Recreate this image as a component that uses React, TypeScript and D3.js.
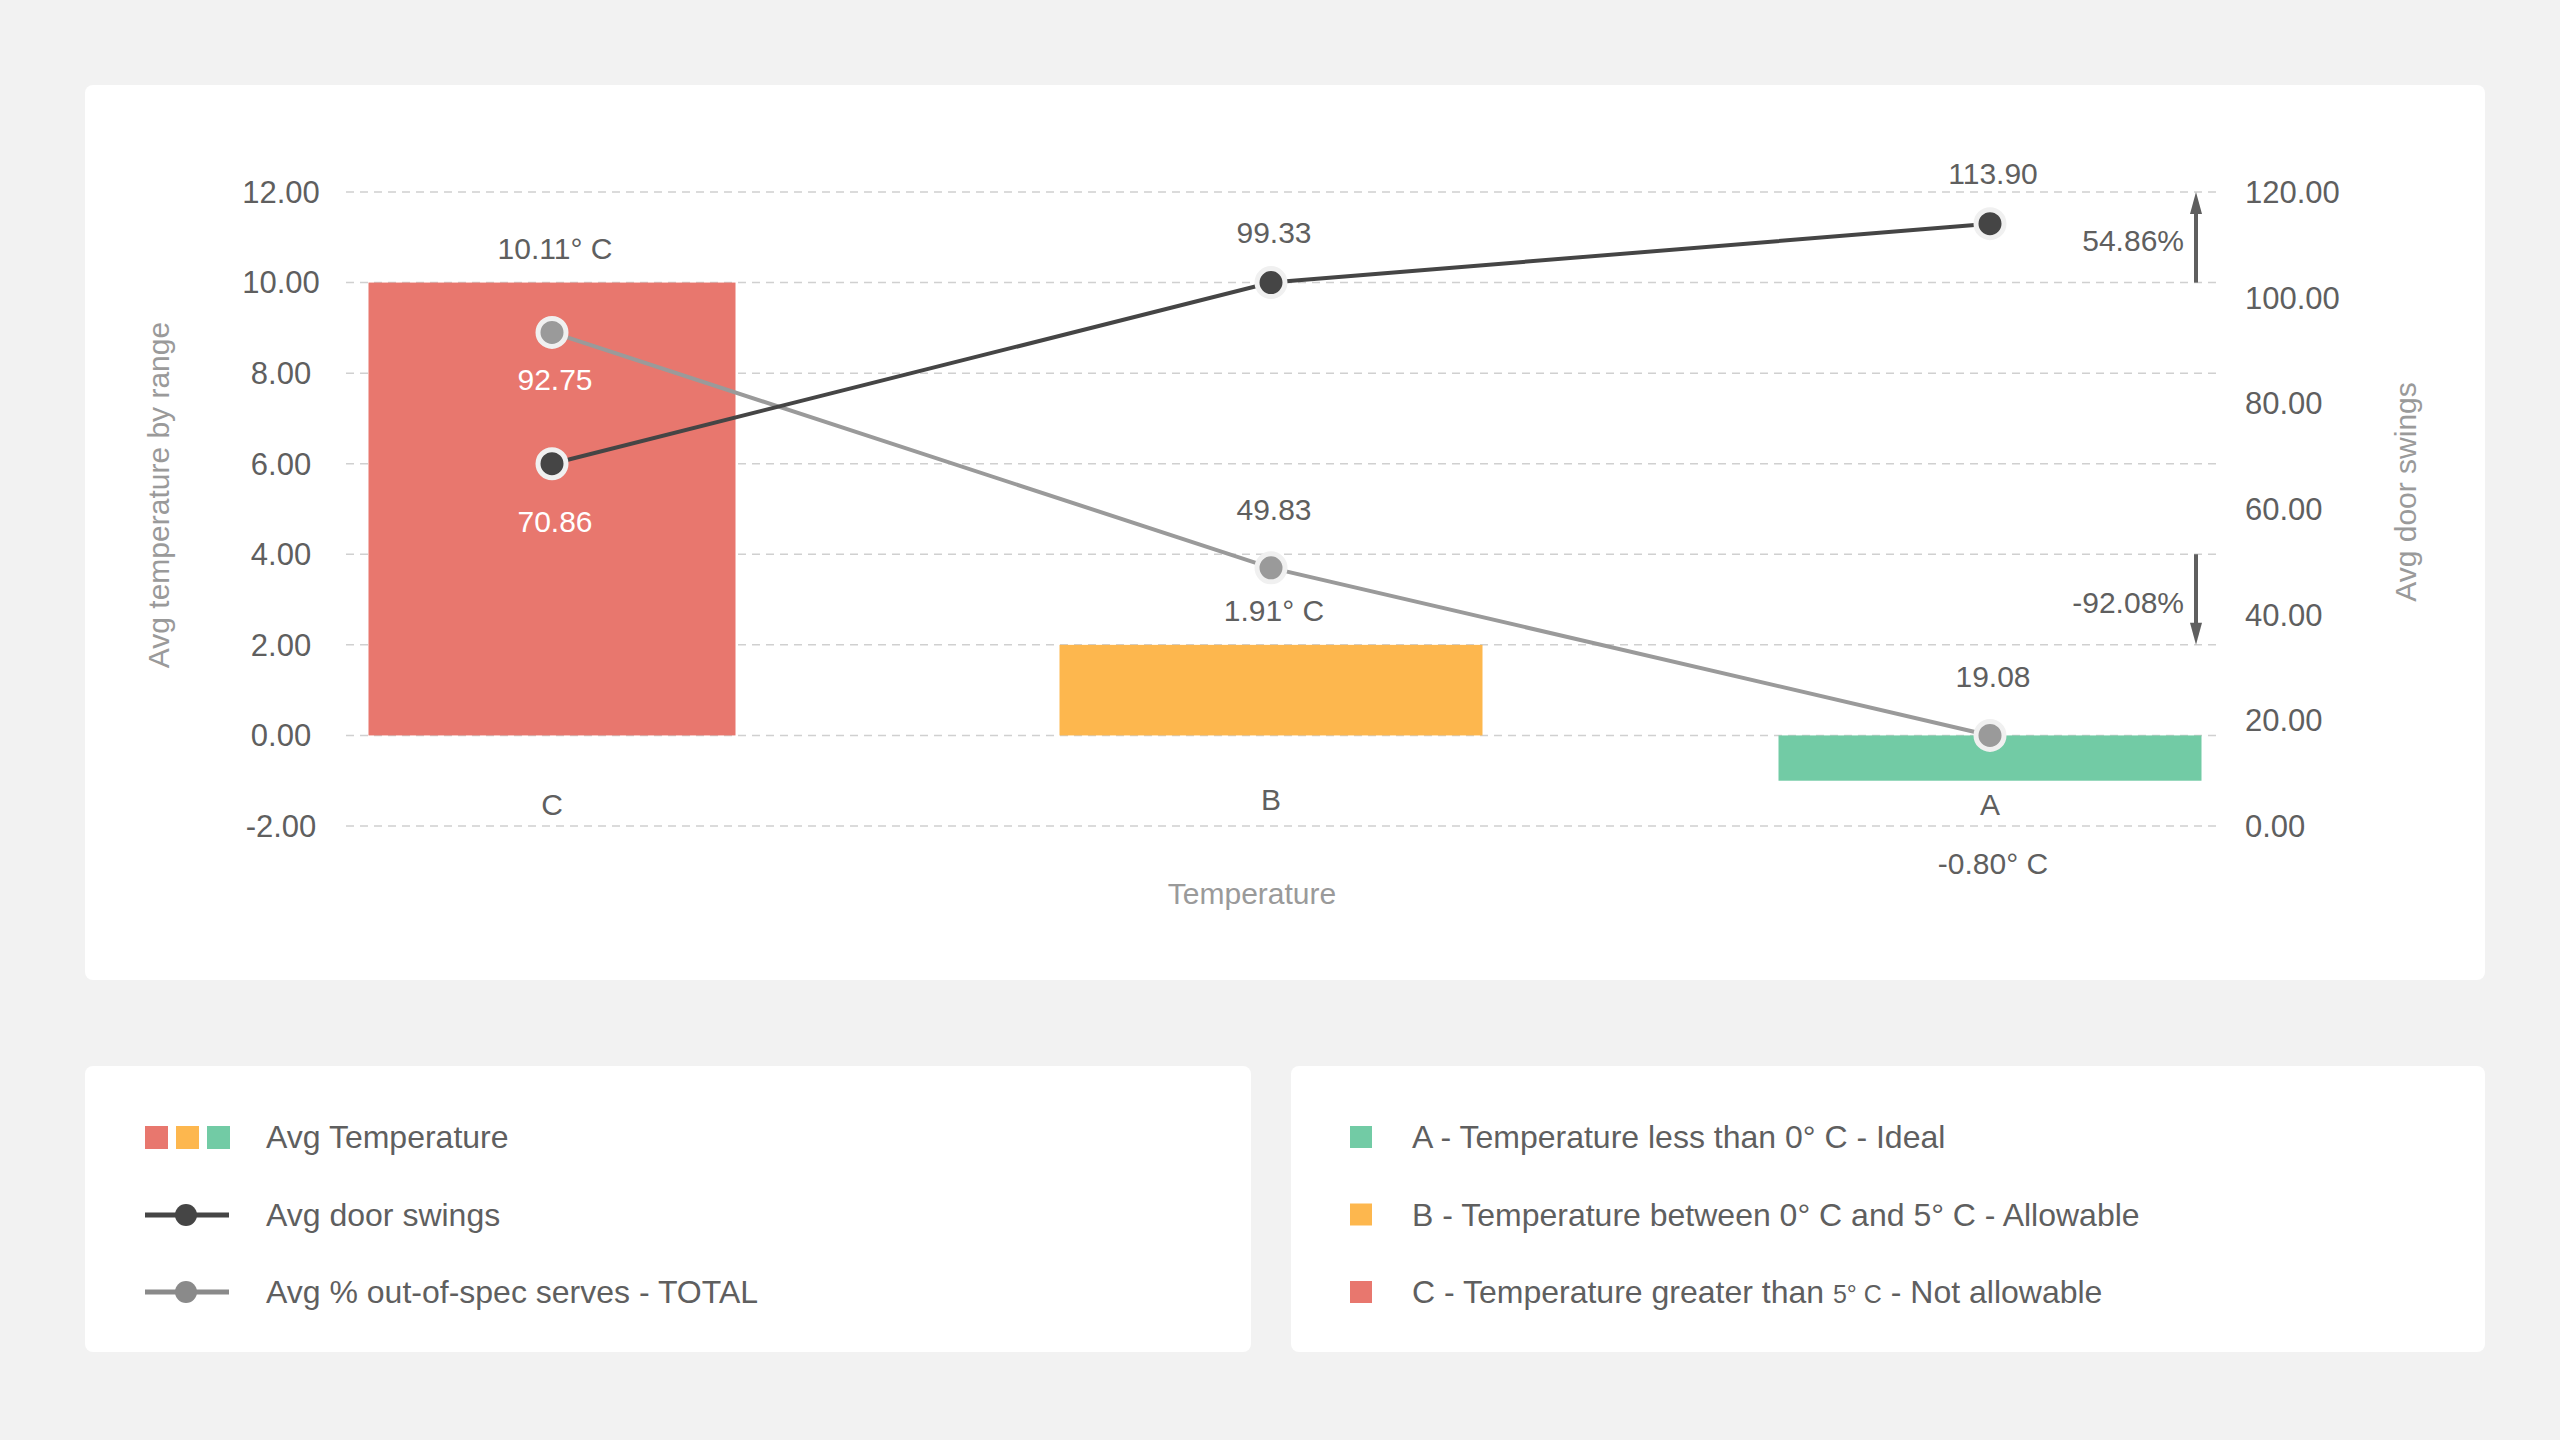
import React from 'react';
import * as d3 from 'd3';

// Categories and values
const categories = ['C', 'B', 'A'];
const barHeights = [10.0, 2.0, -1.0];
const barLabels = ['10.11° C', '1.91° C', '-0.80° C'];
const barColors = ['#E8776E', '#FDB74E', '#72CBA5'];

// line markers: plotted position (left-axis units) and the value shown
const doorSwingPos = [6.0, 10.0, 11.3];
const doorSwingLabels = ['70.86', '99.33', '113.90'];
const outOfSpecPos = [8.9, 3.7, 0.0];
const outOfSpecLabels = ['92.75', '49.83', '19.08'];

const leftTicks = [-2, 0, 2, 4, 6, 8, 10, 12];
const rightTicks = [0, 20, 40, 60, 80, 100, 120];

const changeArrows = [
  { from: 10, to: 12, label: '54.86%' },
  { from: 4, to: 2, label: '-92.08%' },
];

const legendLeft = ['Avg Temperature', 'Avg door swings', 'Avg % out-of-spec serves - TOTAL'];
const legendRight = [
  { color: '#72CBA5', text: 'A - Temperature less than 0° C - Ideal' },
  { color: '#FDB74E', text: 'B - Temperature between 0° C and 5° C - Allowable' },
  { color: '#E8776E', text: 'C - Temperature greater than ', small: '5° C', rest: ' - Not allowable' },
];

const FONT = '"Liberation Sans", Arial, Helvetica, sans-serif';
const TXT = '#5f5f5f';

export default function App() {
  const width = 2560;
  const height = 1440;

  const y = d3.scaleLinear().domain([-2, 12]).range([826, 192]);
  const yRight = d3.scaleLinear().domain([0, 120]).range([826, 192]);
  const x = d3.scalePoint<string>().domain(categories).range([552, 1990]);
  const barW = (i: number) => (i === 0 ? 367 : 423);
  const gridX0 = 346;
  const gridX1 = 2217;

  const line = d3.line<number>()
    .x((_, i) => x(categories[i])!)
    .y(d => y(d));

  const arrowX = 2196;

  return (
    <svg width={width} height={height} style={{ position: 'fixed', left: 0, top: 0 }} fontFamily={FONT}>
      <rect width={width} height={height} fill="#f2f2f2" />
      <rect x={85} y={85} width={2400} height={895} rx={8} fill="#fff" />
      <rect x={85} y={1066} width={1166} height={286} rx={8} fill="#fff" />
      <rect x={1291} y={1066} width={1194} height={286} rx={8} fill="#fff" />

      {/* grid */}
      {leftTicks.map(t => (
        <line key={t} x1={gridX0} x2={gridX1} y1={y(t)} y2={y(t)} stroke="#d0d0d0" strokeWidth={1.5} strokeDasharray="8,6" />
      ))}
      {leftTicks.map(t => (
        <text key={t} x={281} y={y(t)} dy="0.35em" textAnchor="middle" fontSize={31} fill={TXT}>{t.toFixed(2)}</text>
      ))}
      {rightTicks.map(t => (
        <text key={t} x={2245} y={yRight(t)} dy="0.35em" fontSize={31} fill={TXT}>{t.toFixed(2)}</text>
      ))}

      {/* bars */}
      {categories.map((c, i) => (
        <rect key={c} x={x(c)! - barW(i) / 2} width={barW(i)}
          y={y(Math.max(0, barHeights[i]))} height={Math.abs(y(barHeights[i]) - y(0))} fill={barColors[i]} />
      ))}
      {categories.map((c, i) => (
        <text key={c} x={x(c)! + 3} y={barHeights[i] >= 0 ? y(barHeights[i]) - 24 : 874}
          textAnchor="middle" fontSize={30} fill={TXT}>{barLabels[i]}</text>
      ))}
      {categories.map((c, i) => (
        <text key={c} x={x(c)} y={i === 1 ? 810 : 815} textAnchor="middle" fontSize={30} fill={TXT}>{c}</text>
      ))}

      {/* lines */}
      <path d={line(outOfSpecPos)!} fill="none" stroke="#9a9a9a" strokeWidth={4} />
      <path d={line(doorSwingPos)!} fill="none" stroke="#454545" strokeWidth={4} />
      {outOfSpecPos.map((v, i) => (
        <g key={i}>
          <circle cx={x(categories[i])} cy={y(v)} r={14} fill="#9a9a9a" stroke="#f0f0f0" strokeWidth={5} />
          <text x={x(categories[i])! + 3} y={i === 0 ? y(v) + 58 : y(v) - 48} textAnchor="middle" fontSize={30}
            fill={i === 0 ? '#fff' : TXT}>{outOfSpecLabels[i]}</text>
        </g>
      ))}
      {doorSwingPos.map((v, i) => (
        <g key={i}>
          <circle cx={x(categories[i])} cy={y(v)} r={14} fill="#454545" stroke="#f0f0f0" strokeWidth={5} />
          <text x={x(categories[i])! + 3} y={i === 0 ? y(v) + 68 : y(v) - 40} textAnchor="middle" fontSize={30}
            fill={i === 0 ? '#fff' : TXT}>{doorSwingLabels[i]}</text>
        </g>
      ))}

      {/* change arrows */}
      {changeArrows.map((a, k) => {
        const y0 = y(a.from);
        const y1 = y(a.to);
        const dir = y1 < y0 ? -1 : 1;
        return (
          <g key={k}>
            <line x1={arrowX} x2={arrowX} y1={y0} y2={y1 - dir * 18} stroke="#5f5f5f" strokeWidth={4} />
            <path d={`M${arrowX},${y1} L${arrowX - 6},${y1 - dir * 22} L${arrowX + 6},${y1 - dir * 22} Z`} fill="#5f5f5f" />
            <text x={arrowX - 12} y={(y0 + y1) / 2 + 3} dy="0.35em" textAnchor="end" fontSize={30} fill={TXT}>{a.label}</text>
          </g>
        );
      })}

      {/* axis titles */}
      <text x={1252} y={893} dy="0.35em" textAnchor="middle" fontSize={30} fill="#9a9a9a">Temperature</text>
      <text transform="translate(158,495) rotate(-90)" dy="0.35em" textAnchor="middle" fontSize={30} fill="#9a9a9a">Avg temperature by range</text>
      <text transform="translate(2405,492) rotate(-90)" dy="0.35em" textAnchor="middle" fontSize={30} fill="#9a9a9a">Avg door swings</text>

      {/* left legend */}
      {barColors.map((c, i) => (
        <rect key={c} x={145 + i * 31} y={1126} width={23} height={23} fill={c} />
      ))}
      <line x1={145} x2={229} y1={1215} y2={1215} stroke="#454545" strokeWidth={5} />
      <circle cx={186} cy={1215} r={11} fill="#454545" />
      <line x1={145} x2={229} y1={1292} y2={1292} stroke="#8a8a8a" strokeWidth={5} />
      <circle cx={186} cy={1292} r={11} fill="#8a8a8a" />
      {legendLeft.map((t, i) => (
        <text key={t} x={266} y={1137 + i * 77.5} dy="0.35em" fontSize={32} fill={TXT}>{t}</text>
      ))}

      {/* right legend */}
      {legendRight.map((r, i) => (
        <g key={i}>
          <rect x={1350} y={1126 + i * 77.5} width={22} height={22} fill={r.color} />
          <text x={1412} y={1137 + i * 77.5} dy="0.35em" fontSize={32} fill={TXT}>
            {r.text}
            {r.small && <tspan fontSize={25}>{r.small}</tspan>}
            {r.rest && <tspan>{r.rest}</tspan>}
          </text>
        </g>
      ))}
    </svg>
  );
}
